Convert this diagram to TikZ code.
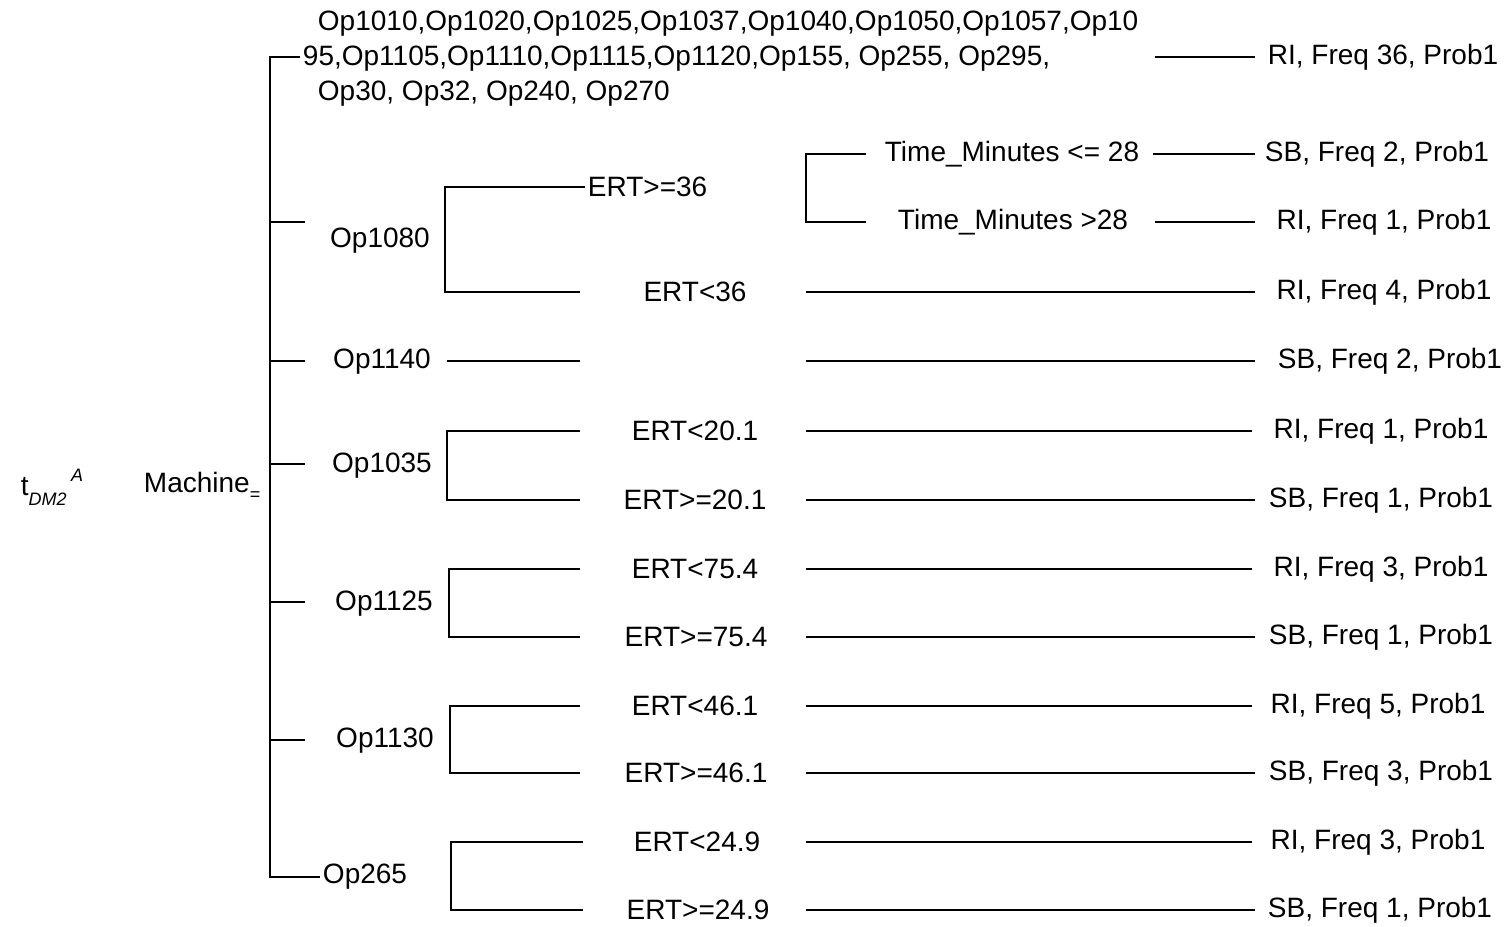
\documentclass[tikz,border=0pt]{standalone}
\usepackage{fontspec}
\setmainfont{Liberation Sans}
\usepackage{tikz}

\begin{document}
\begin{tikzpicture}[
		x=0.5pt, y=-0.5pt,
		lbl/.style = {inner sep=1pt, font=\fontsize{14}{17.5}\selectfont},
		leaf/.style = {inner sep=1pt, font=\fontsize{14}{17.5}\selectfont},
		every path/.style = {line width=0.95pt}
	]
	\useasboundingbox (0,0) rectangle (1507,926);

	% root and attribute
	\node[lbl] (root) at (52,487) {t\raisebox{-5pt}{\fontsize{9}{9}\selectfont\itshape DM2}\,\raisebox{7pt}{\fontsize{9}{9}\selectfont\itshape A}};
	\node[lbl, anchor=west] (mach) at (141,486) {Machine\raisebox{-4pt}{\fontsize{9}{9}\selectfont =}};

	% machine values
	\node[lbl, anchor=west, align=left] (ops) at (315,59) {Op1010,Op1020,Op1025,Op1037,Op1040,Op1050,Op1057,Op10\\\hspace*{-7.5pt}95,Op1105,Op1110,Op1115,Op1120,Op155, Op255, Op295,\\Op30, Op32, Op240, Op270};
	\node[lbl] (op1080) at (380,241) {Op1080};
	\node[lbl] (op1140) at (382,362) {Op1140};
	\node[lbl] (op1035) at (382,466) {Op1035};
	\node[lbl] (op1125) at (384,604) {Op1125};
	\node[lbl] (op1130) at (385,741) {Op1130};
	\node[lbl] (op265)  at (365,877) {Op265};

	% ERT tests
	\node[lbl, anchor=west] (ertA) at (585,187) {ERT>=36};
	\node[lbl] (ertB) at (695,292) {ERT<36};
	\node[lbl] (ertC) at (695,431) {ERT<20.1};
	\node[lbl] (ertD) at (695,500) {ERT>=20.1};
	\node[lbl] (ertE) at (695,569) {ERT<75.4};
	\node[lbl] (ertF) at (696,637) {ERT>=75.4};
	\node[lbl] (ertG) at (695,706) {ERT<46.1};
	\node[lbl] (ertH) at (696,773) {ERT>=46.1};
	\node[lbl] (ertI) at (697,842) {ERT<24.9};
	\node[lbl] (ertJ) at (698,910) {ERT>=24.9};

	% time tests
	\node[lbl] (timeA) at (1012,154) {Time\_Minutes <= 28};
	\node[lbl] (timeB) at (1013,222) {Time\_Minutes >28};

	% leaves
	\node[leaf] (lf1)  at (1383,57)  {RI, Freq 36, Prob1};
	\node[leaf] (lf2)  at (1377,154) {SB, Freq 2, Prob1};
	\node[leaf] (lf3)  at (1384,222) {RI, Freq 1, Prob1};
	\node[leaf] (lf4)  at (1384,292) {RI, Freq 4, Prob1};
	\node[leaf] (lf5)  at (1390,361) {SB, Freq 2, Prob1};
	\node[leaf] (lf6)  at (1381,431) {RI, Freq 1, Prob1};
	\node[leaf] (lf7)  at (1381,500) {SB, Freq 1, Prob1};
	\node[leaf] (lf8)  at (1381,569) {RI, Freq 3, Prob1};
	\node[leaf] (lf9)  at (1381,637) {SB, Freq 1, Prob1};
	\node[leaf] (lf10) at (1378,706) {RI, Freq 5, Prob1};
	\node[leaf] (lf11) at (1381,773) {SB, Freq 3, Prob1};
	\node[leaf] (lf12) at (1378,842) {RI, Freq 3, Prob1};
	\node[leaf] (lf13) at (1380,910) {SB, Freq 1, Prob1};

	% main bracket
	\draw (300,57) -- (270,57) -- (270,877) -- (op265.west);
	\draw (270,222) -- (305,222);
	\draw (270,361) -- (305,361);
	\draw (270,464) -- (305,464);
	\draw (270,602) -- (305,602);
	\draw (270,740) -- (305,740);

	% second level
	\draw (ertA.west) -- (445,187) -- (445,292) -- (580,292);
	\draw (447,361) -- (580,361);
	\draw (580,431) -- (447,431) -- (447,500) -- (580,500);
	\draw (580,569) -- (449,569) -- (449,637) -- (580,637);
	\draw (580,706) -- (450,706) -- (450,773) -- (580,773);
	\draw (583,842) -- (451,842) -- (451,910) -- (583,910);

	% third level
	\draw (866,154) -- (806,154) -- (806,222) -- (866,222);

	% to leaves
	\draw (1155,57) -- (1255,57);
	\draw (1153,154) -- (1255,154);
	\draw (1155,222) -- (1255,222);
	\draw (806,292) -- (1255,292);
	\draw (806,361) -- (1255,361);
	\draw (806,431) -- (1252,431);
	\draw (806,500) -- (1255,500);
	\draw (806,569) -- (1252,569);
	\draw (806,637) -- (1255,637);
	\draw (806,706) -- (1252,706);
	\draw (806,773) -- (1255,773);
	\draw (806,842) -- (1252,842);
	\draw (806,910) -- (1255,910);
\end{tikzpicture}
\end{document}
